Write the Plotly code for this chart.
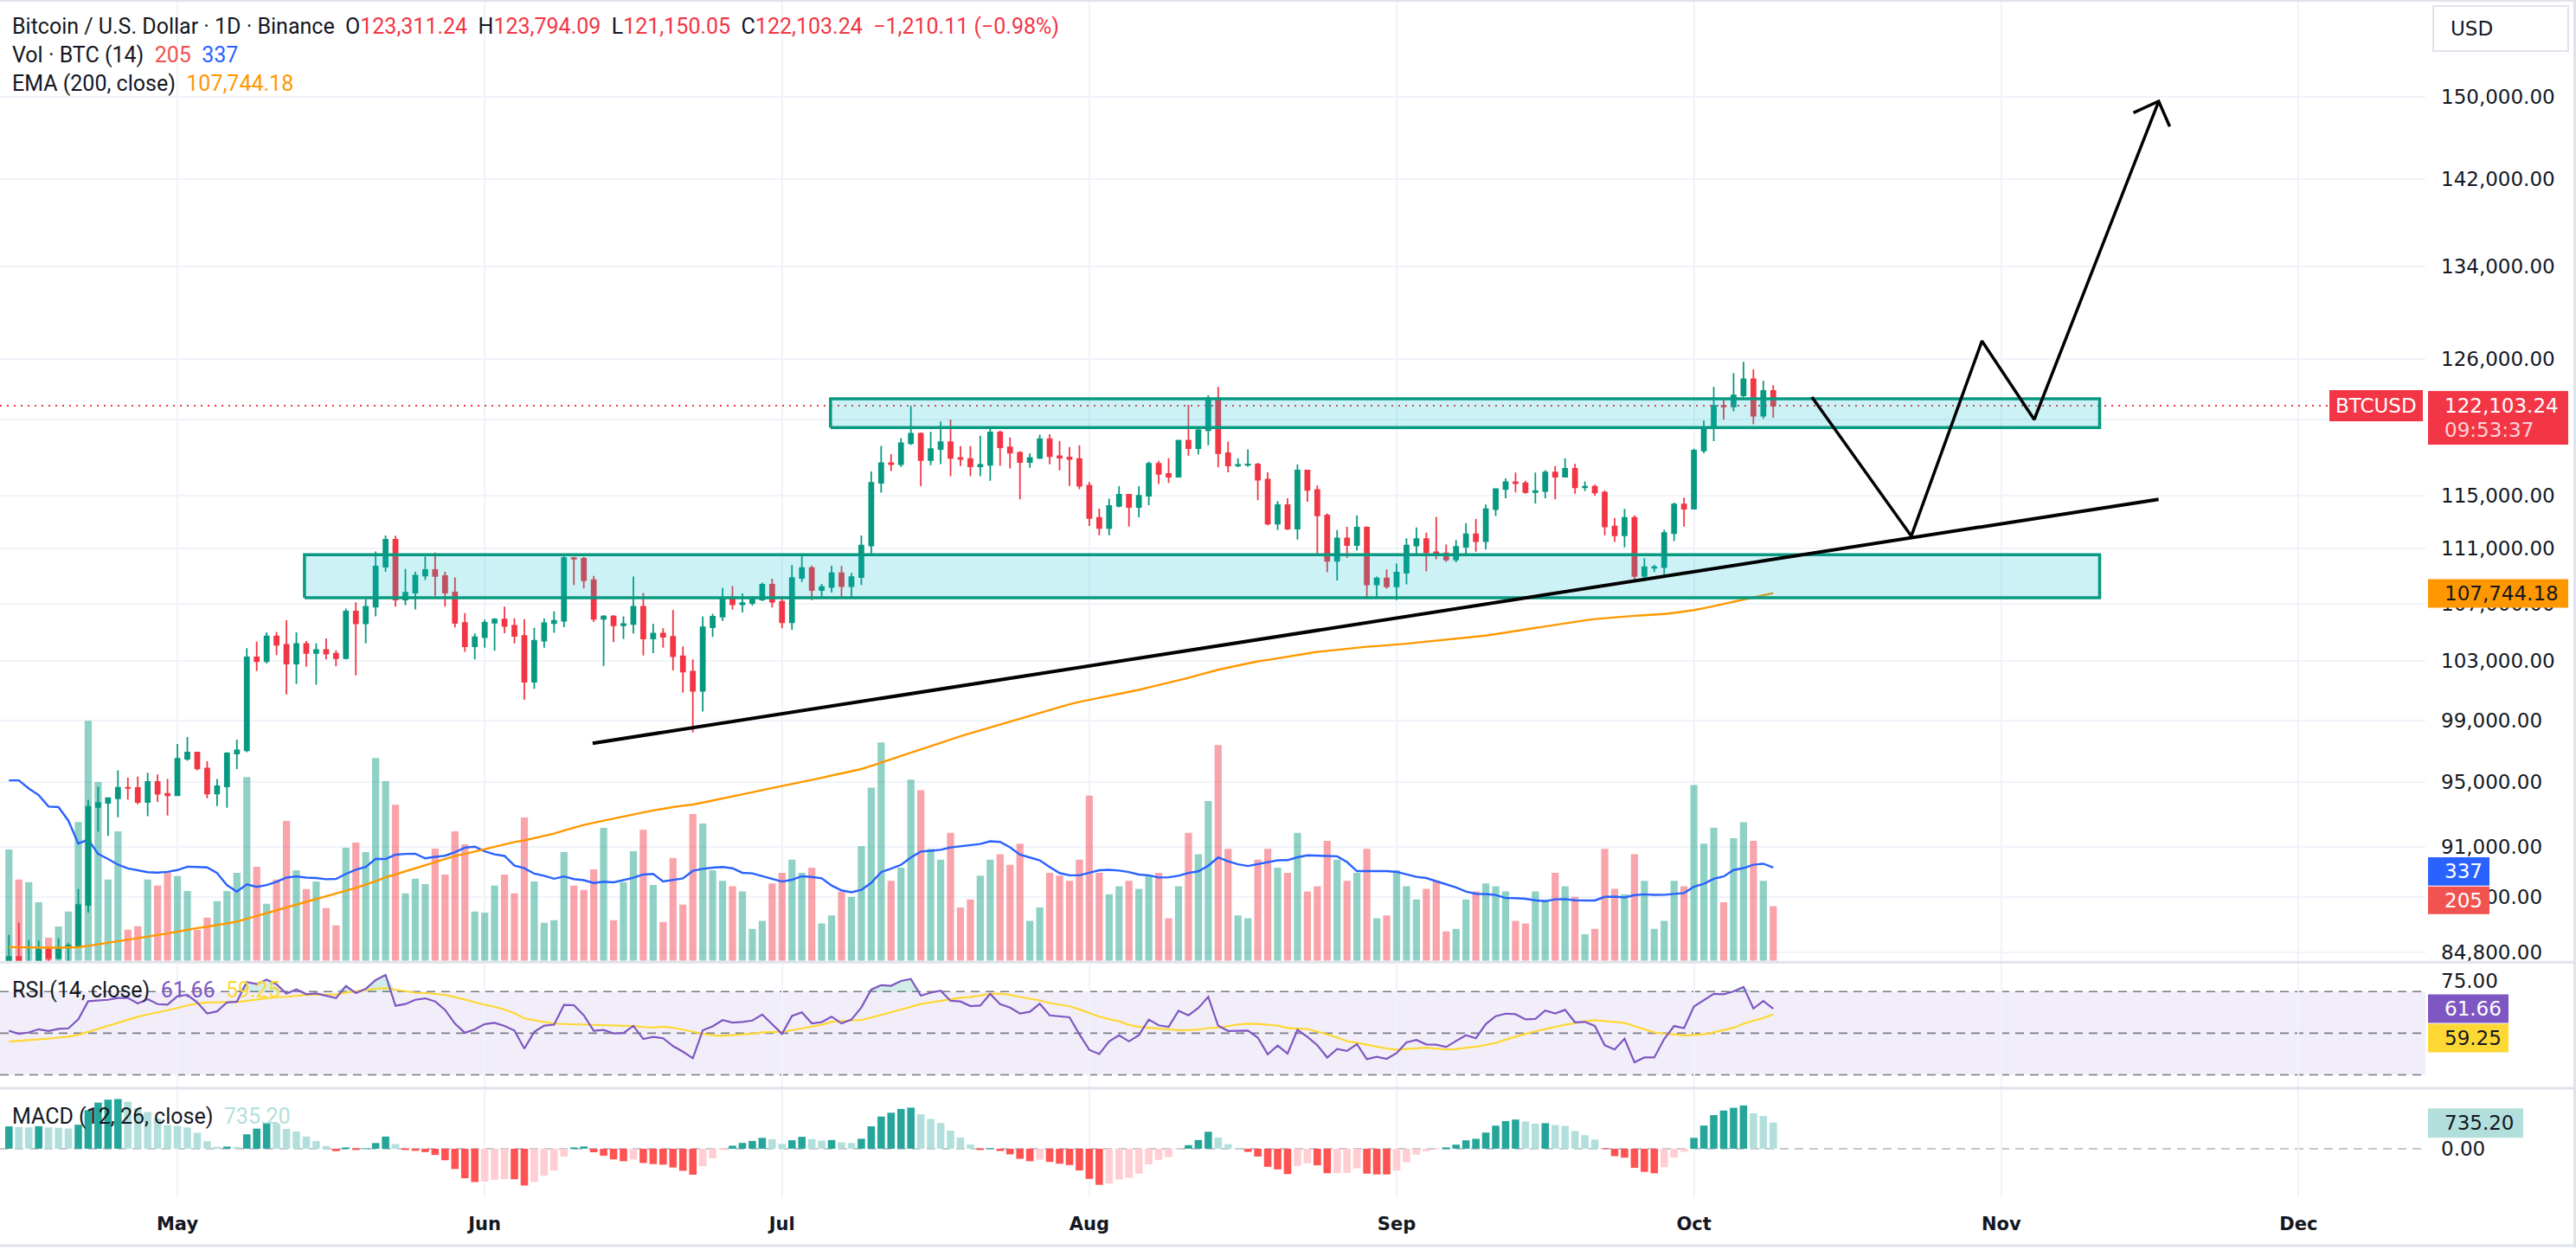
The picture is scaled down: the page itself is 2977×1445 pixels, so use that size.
import numpy as np
import pandas as pd
import plotly.graph_objects as go

# ---------------- data ----------------
dates = pd.date_range("2025-04-14", "2025-10-09", freq="D")

opens = [
    83760, 84540, 83630, 84030, 84950, 84470, 85060, 85180, 87520, 93440, 93690, 93980, 94640, 94630, 93750, 95010, 94260,
    94170, 96490, 96890, 95860, 94280, 94730, 96830, 97030, 103240, 102970, 104700, 104110, 102810, 104170, 103540, 103740,
    103490, 103190, 106450, 105610, 106790, 109680, 111670, 107290, 107790, 109030, 109440, 108990, 107800, 105640, 104000,
    104640, 105650, 105880, 105430, 104730, 101580, 104390, 105620, 105790, 110300, 110260, 108690, 105930, 106090, 105470,
    105560, 106790, 104550, 104890, 104660, 103310, 102260, 100960, 105330, 106080, 107340, 106950, 107050, 107300, 108360,
    107140, 105680, 108850, 109580, 107980, 108200, 109200, 108260, 108920, 111230, 115990, 117520, 117440, 119090, 119840,
    117760, 118630, 119180, 117920, 117840, 117270, 117380, 119950, 118760, 118340, 117610, 117920, 119420, 118060, 117950,
    117840,
    115760, 113300, 112550, 114210, 115060, 114130, 114990, 117470, 116670, 116460, 119290, 118690, 120130, 122700, 118300,
    117340, 117380, 117410, 116230, 112870, 114270, 112500, 116940, 115440, 113490, 110110, 111760, 111260, 112570, 108380,
    108820,
    108250, 109240, 111240, 111710, 110730, 110660, 110190, 111140, 112070, 111550, 113960, 115500, 116030, 115950, 115270,
    115350, 116790, 116450, 117070, 115630, 115690, 115230, 112650, 112000, 113310, 109000, 109600, 109640, 112160, 114320,
    113990, 118500, 120300, 122100, 122040, 122940, 124290, 121300, 123311.24,
]
closes = [
    84540, 83630, 84030, 84950, 84470, 85060, 85180, 87520, 93440, 93690, 93980, 94640, 94630, 93750, 95010, 94260, 94170,
    96490, 96890, 95860, 94280, 94730, 96830, 97030, 103240, 102970, 104700, 104110, 102810, 104170, 103540, 103740, 103490,
    103190, 106450, 105610, 106790, 109680, 111670, 107290, 107790, 109030, 109440, 108990, 107800, 105640, 104000, 104640,
    105650, 105880, 105430, 104730, 101580, 104390, 105620, 105790, 110300, 110260, 108690, 105930, 106090, 105470, 105560,
    106790, 104550, 104890, 104660, 103310, 102260, 100960, 105330, 106080, 107340, 106950, 107050, 107300, 108360, 107140,
    105680, 108850, 109580, 107980, 108200, 109200, 108260, 108920, 111230, 115990, 117520, 117440, 119090, 119840, 117760,
    118630, 119180, 117920, 117840, 117270, 117380, 119950, 118760, 118340, 117610, 117920, 119420, 118060, 117950, 117840,
    115760,
    113300, 112550, 114210, 115060, 114130, 114990, 117470, 116670, 116460, 119290, 118690, 120130, 122700, 118300, 117340,
    117380, 117410, 116230, 112870, 114270, 112500, 116940, 115440, 113490, 110110, 111760, 111260, 112570, 108380, 108820,
    108250,
    109240, 111240, 111710, 110730, 110660, 110190, 111140, 112070, 111550, 113960, 115500, 116030, 115950, 115270, 115350,
    116790, 116450, 117070, 115630, 115690, 115230, 112650, 112000, 113310, 109000, 109640, 109640, 112160, 114320, 113990,
    118500, 120300, 122100, 122040, 122940, 124290, 121300, 123310, 122103.24,
]
highs = [
    85800, 86500, 85500, 85470, 85130, 85600, 85320, 88460, 93880, 94700, 94000, 95750, 95280, 95350, 95600, 95480, 95200,
    97440, 97900, 96940, 96330, 95200, 96920, 97730, 103870, 104330, 104980, 105000, 105820, 104980, 104370, 104200, 104550,
    103720, 106660, 107100, 107320, 110800, 111980, 111960, 109500, 109300, 110420, 110720, 109300, 108900, 106330, 104900,
    105880, 105980, 106800, 105970, 105900, 105300, 105950, 106450, 110620, 110400, 110400, 109000, 106200, 106200, 106100,
    108950, 107770, 105560, 105260, 106550, 104000, 103100, 106100, 106290, 108140, 108270, 107730, 107550, 108520, 108800,
    107530, 109790, 110530, 109760, 108430, 109740, 109730, 109220, 111990, 116860, 118870, 118230, 119490, 122100, 119950,
    120000, 120830, 120980, 118860, 118850, 119680, 120250, 120090, 119540, 118450, 118300, 119770, 119800, 119270, 118780,
    118920,
    116050, 114000, 114760, 115720, 115130, 115720, 117650, 117700, 117900, 119310, 122180, 120320, 122950, 123650, 119220,
    117900, 118600, 117540, 116800, 114580, 114800, 117430, 117000, 115770, 113640, 112380, 112630, 113500, 112660, 108950,
    109480,
    109910, 111770, 112580, 112200, 113380, 111300, 111650, 112900, 113230, 114310, 115520, 116330, 116780, 116150, 116780,
    116970, 117290, 117900, 117460, 116100, 115850, 115400, 113300, 113980, 113500, 110300, 109800, 112400, 114470, 114850,
    118650, 120900, 123650, 122700, 124800, 125730, 125100, 124150, 123794.09,
]
lows = [
    83600, 83600, 83100, 83740, 84300, 84400, 83950, 85140, 87080, 91900, 91650, 92800, 93880, 93600, 92860, 93750, 92900,
    94120, 96360, 95750, 93980, 93500, 93380, 95830, 96920, 102300, 102820, 103400, 100720, 101440, 102600, 101380, 103100,
    102620, 103100, 102000, 104200, 106100, 109300, 106800, 106880, 106600, 108700, 107560, 106800, 105320, 103620, 103100,
    103900, 103700, 104920, 104200, 100370, 101100, 103900, 104950, 105340, 108350, 108100, 105700, 102660, 104300, 104500,
    104900, 103370, 103530, 103900, 102350, 100840, 98200, 99570, 104660, 105780, 106580, 106370, 106860, 107200, 106730,
    105270, 105160, 108570, 107260, 107480, 107800, 107500, 107430, 108350, 110580, 115220, 116900, 117230, 118950, 115730,
    117350, 117450, 116500, 117290, 116500, 116500, 116150, 117300, 117100, 114720, 117160, 117840, 117430, 116960, 115740,
    115500,
    112700, 112000, 112000, 114100, 112650, 113350, 114270, 115890, 115980, 116460, 118100, 118200, 118920, 117180, 116800,
    117200, 117240, 114640, 112740, 112380, 112380, 111680, 114530, 110650, 109270, 108670, 110330, 110860, 107450, 107350,
    108080,
    107260, 108390, 110500, 109330, 110220, 110030, 110000, 110620, 110780, 110940, 113440, 114800, 115250, 115140, 114400,
    114800, 114720, 116400, 115150, 115350, 115000, 112000, 111500, 111100, 108630, 108620, 109280, 109100, 111560, 112650,
    113950, 118300, 119250, 120980, 121650, 122800, 120600, 121060, 121150.05,
]
volumes = [
    418, 305, 295, 220, 87, 129, 185, 521, 901, 671, 305, 486, 117, 130, 305, 282, 332,
    318, 262, 116, 162, 224, 262, 330, 690, 353, 214, 305, 525, 340, 269, 298, 198, 133, 424, 444, 408, 761, 674, 586, 253,
    308, 288, 421, 324, 486, 437, 185,
    181, 282, 324, 253, 538, 298, 143, 152, 408, 282, 266, 343, 499, 152, 295, 411, 492, 285, 146, 386, 211, 551, 515, 340,
    300, 280, 260, 120, 150, 290,
    330, 380, 330, 350, 140, 170, 260, 240, 430, 650, 820, 300, 350, 680, 640, 420, 380, 480, 200, 230, 320, 380, 400, 360,
    440, 150, 200, 330, 320, 300, 380,
    620, 330, 250, 280, 300, 270, 320, 330, 160, 280, 480, 400, 600, 810, 420, 170, 160, 380, 420, 350, 330, 480, 260, 280,
    450, 380, 300, 330, 420, 160, 170,
    340, 280, 230, 270, 300, 110, 120, 230, 260, 290, 280, 260, 150, 140, 260, 230, 330, 280, 240, 100, 120, 420, 270, 250,
    400, 300, 120, 150, 300, 280,
    660, 440, 500, 220, 460, 520, 450, 300, 205,
]
# volume MA(14) read for the first 13 sessions (earlier volumes are off-chart)
vol_ma_head = [677, 677, 647, 622, 579, 577, 526, 440, 455, 401, 382, 361, 347]

# indicator state carried in from before the first visible session
prev_close = 83760
ema200_seed = 85100
rsi_gain_seed, rsi_loss_seed = 1300.0, 1300.0
rsi_ma_seed = 45.5
ema12_seed, ema26_seed, signal_seed = 82400.0, 83500.0, -1650.0

price_ticks = [150000, 142000, 134000, 126000, 121000, 115000, 111000, 107000, 103000, 99000, 95000, 91000, 88000, 84800]
hidden_ticks = [121000]   # covered by the last-price label on the scale

# drawings (time, price anchors)
upper_box = dict(t0="2025-07-05 21:20", t1="2025-11-10 22:20", p0=120346, p1=122678)
lower_box = dict(t0="2025-05-13 19:40", t1="2025-11-10 22:20", p0=107420, p1=110560)
trend_t = ["2025-06-11 21:22", "2025-11-16 21:00"]
trend_p = [97490, 114720]
zig_t = ["2025-10-12 21:36", "2025-10-22 22:19", "2025-10-30 01:26", "2025-11-04 07:55", "2025-11-16 21:21"]
zig_p = [122817, 111940, 127490, 120985, 149600]
head_t = ["2025-11-14 08:10", "2025-11-16 21:21", "2025-11-18 00:00"]
head_p = [148450, 149600, 147095]

last_price = 122103.24
x_start, x_end = "2025-04-13 02:24", "2025-12-13 19:12"
price_line_end = "2025-12-04 04:48"

# ---------------- indicators ----------------
c = np.array(closes, float)
o = np.array(opens, float)
n = len(c)

ema200 = []
e = ema200_seed
for x in c:
    e = e + (x - e) * 2 / 201
    ema200.append(e)

rsi = []
g, l, pc = rsi_gain_seed, rsi_loss_seed, prev_close
for x in c:
    ch = x - pc
    pc = x
    g = (g * 13 + max(ch, 0)) / 14
    l = (l * 13 + max(-ch, 0)) / 14
    rsi.append(100 - 100 / (1 + g / l))
ext = [rsi_ma_seed] * 13 + rsi
rsi_ma = [float(np.mean(ext[i:i + 14])) for i in range(n)]

hist = []
e12, e26, sig = ema12_seed, ema26_seed, signal_seed
for x in c:
    e12 += (x - e12) * 2 / 13
    e26 += (x - e26) * 2 / 27
    m = e12 - e26
    sig += (m - sig) * 2 / 10
    hist.append(m - sig)
hist_colors = []
for i, h in enumerate(hist):
    prev = hist[i - 1] if i > 0 else h
    if h >= 0:
        hist_colors.append("#26A69A" if h >= prev else "#B2DFDB")
    else:
        hist_colors.append("#FF5252" if h < prev else "#FFCDD2")

vol = np.array(volumes, float)
vol_ma = list(vol_ma_head) + [float(vol[i - 13:i + 1].mean()) for i in range(13, n)]

UP, DN = "#089981", "#F23645"
vol_colors = ["rgba(8,153,129,0.45)" if cl >= op else "rgba(242,54,69,0.45)" for op, cl in zip(o, c)]

# ---------------- geometry ----------------
W, H = 2977, 1445
PLOT_R = 2803
def PX(x): return x / W
def PY(y): return 1 - y / H

PRICE_BOT = 1113
RSI_TOP, RSI_BOT = 1115, 1260
MACD_TOP, MACD_BOT = 1260, 1387
A, B = 20812.5, 1736.8  # screen mapping of the log price scale
log_top = (A / B) / np.log(10)
log_bot = ((A - PRICE_BOT) / B) / np.log(10)
VOL_TOP = PRICE_BOT * 3.24

DAY = 86400000
fig = go.Figure()

# volume (base axis, drawn beneath price)
fig.add_trace(go.Bar(x=dates, y=volumes, marker=dict(color=vol_colors, line=dict(width=0)),
                     width=0.72 * DAY, xaxis="x", yaxis="y", hoverinfo="skip"))
fig.add_trace(go.Scatter(x=dates, y=vol_ma, mode="lines", line=dict(color="#2962FF", width=2.4),
                         xaxis="x", yaxis="y", hoverinfo="skip"))

# price
fig.add_trace(go.Scatter(x=dates, y=ema200, mode="lines", line=dict(color="#FF9800", width=2.4),
                         xaxis="x", yaxis="y2", hoverinfo="skip"))
fig.add_trace(go.Candlestick(x=dates, open=opens, high=highs, low=lows, close=closes,
                             increasing=dict(line=dict(color=UP, width=1.8), fillcolor=UP),
                             decreasing=dict(line=dict(color=DN, width=1.8), fillcolor=DN),
                             whiskerwidth=0, xaxis="x", yaxis="y2", hoverinfo="skip"))
fig.add_trace(go.Scatter(x=[x_start, price_line_end], y=[last_price, last_price], mode="lines",
                         line=dict(color=DN, width=2, dash="2px,6px"), xaxis="x", yaxis="y2", hoverinfo="skip"))

# drawings
for bx in (upper_box, lower_box):
    fig.add_trace(go.Scatter(x=[bx["t0"], bx["t1"], bx["t1"], bx["t0"], bx["t0"]],
                             y=[bx["p0"], bx["p0"], bx["p1"], bx["p1"], bx["p0"]],
                             mode="lines", fill="toself", fillcolor="rgba(0,188,212,0.2)",
                             line=dict(color=UP, width=3.5), xaxis="x", yaxis="y2", hoverinfo="skip"))
fig.add_trace(go.Scatter(x=trend_t, y=trend_p, mode="lines", line=dict(color="#000000", width=4),
                         xaxis="x", yaxis="y2", hoverinfo="skip"))
fig.add_trace(go.Scatter(x=zig_t, y=zig_p, mode="lines", line=dict(color="#000000", width=3.5),
                         xaxis="x", yaxis="y2", hoverinfo="skip"))
fig.add_trace(go.Scatter(x=head_t, y=head_p, mode="lines", line=dict(color="#000000", width=3.5),
                         xaxis="x", yaxis="y2", hoverinfo="skip"))

# RSI
fig.add_trace(go.Scatter(x=dates, y=[70] * n, mode="lines", line=dict(width=0, color="rgba(0,0,0,0)"),
                         xaxis="x", yaxis="y3", hoverinfo="skip"))
fig.add_trace(go.Scatter(x=dates, y=np.maximum(rsi, 70), mode="lines", line=dict(width=0, color="rgba(0,0,0,0)"),
                         fill="tonexty", fillcolor="rgba(8,153,129,0.18)", xaxis="x", yaxis="y3", hoverinfo="skip"))
fig.add_trace(go.Scatter(x=dates, y=rsi_ma, mode="lines", line=dict(color="#FDD835", width=2.2),
                         xaxis="x", yaxis="y3", hoverinfo="skip"))
fig.add_trace(go.Scatter(x=dates, y=rsi, mode="lines", line=dict(color="#7E57C2", width=2.2),
                         xaxis="x", yaxis="y3", hoverinfo="skip"))

# MACD histogram
fig.add_trace(go.Bar(x=dates, y=hist, marker=dict(color=hist_colors, line=dict(width=0)),
                     width=0.75 * DAY, xaxis="x", yaxis="y4", hoverinfo="skip"))

GRID = "#F0F3FA"
TXT = "#131722"
AXF = dict(family="DejaVu Sans", size=23, color=TXT)

fig.update_layout(
    width=W, height=H, margin=dict(l=0, r=0, t=0, b=0),
    paper_bgcolor="white", plot_bgcolor="white", showlegend=False,
    barmode="overlay", boxgap=0.38, hovermode=False,
    font=AXF,
    xaxis=dict(domain=[0, PX(PLOT_R)], type="date", range=[x_start, x_end], anchor="y4",
               tick0="2025-05-01", dtick="M1", tickformat="%b", showgrid=True, gridcolor=GRID, gridwidth=1.5,
               zeroline=False, showline=False, ticks="", ticklabelstandoff=16,
               tickfont=dict(family="DejaVu Sans", size=21, color=TXT, weight="bold"),
               rangeslider=dict(visible=False)),
    yaxis=dict(domain=[PY(PRICE_BOT), 1], range=[0, VOL_TOP], visible=False, fixedrange=True),
    yaxis2=dict(domain=[PY(PRICE_BOT), 1], overlaying="y", anchor="x", side="right", type="log",
                range=[log_bot, log_top], tickvals=price_ticks,
                ticktext=["" if v in hidden_ticks else f"{v:,.2f}" for v in price_ticks],
                showgrid=True, gridcolor=GRID, gridwidth=1.5,
                zeroline=False, showline=False, ticks="", ticklabelstandoff=17, tickfont=AXF),
    yaxis3=dict(domain=[PY(RSI_BOT), PY(RSI_TOP)], anchor="x", side="right", range=[23.78, 83.98],
                tickvals=[75], ticktext=["75.00"], showgrid=False, zeroline=False, showline=False,
                ticks="", ticklabelstandoff=17, tickfont=AXF),
    yaxis4=dict(domain=[PY(MACD_BOT), PY(MACD_TOP)], anchor="x", side="right", range=[-1393, 1750],
                tickvals=[0], ticktext=["0.00"], showgrid=False, zeroline=False, showline=False,
                ticks="", ticklabelstandoff=17, tickfont=AXF),
)

shapes = []
# RSI band and levels
shapes.append(dict(type="rect", xref="paper", yref="y3", x0=0, x1=PX(PLOT_R), y0=30, y1=70,
                   fillcolor="rgba(126,87,194,0.1)", line=dict(width=0), layer="below"))
for lv in (70, 50, 30):
    shapes.append(dict(type="line", xref="paper", yref="y3", x0=0, x1=PX(PLOT_R), y0=lv, y1=lv,
                       line=dict(color="#787B86", width=1.6, dash="10px,7px"), layer="below"))
shapes.append(dict(type="line", xref="paper", yref="y4", x0=0, x1=PX(PLOT_R), y0=0, y1=0,
                   line=dict(color="#B2B5BE", width=1.4, dash="10px,7px"), layer="below"))
# pane separators and borders
for yy in (1114.5, 1260.5):
    shapes.append(dict(type="line", xref="paper", yref="paper", x0=0, x1=1, y0=PY(yy), y1=PY(yy),
                       line=dict(color="#E0E3EB", width=3)))
shapes.append(dict(type="line", xref="paper", yref="paper", x0=0, x1=1, y0=PY(1), y1=PY(1),
                   line=dict(color="#E0E3EB", width=2)))
shapes.append(dict(type="line", xref="paper", yref="paper", x0=0, x1=1, y0=PY(1443), y1=PY(1443),
                   line=dict(color="#E0E3EB", width=3)))
shapes.append(dict(type="line", xref="paper", yref="paper", x0=PX(2975.5), x1=PX(2975.5), y0=0, y1=1,
                   line=dict(color="#E0E3EB", width=3)))

# label boxes on the price scale
def box(x0, y0, x1, y1, color, border=None):
    shapes.append(dict(type="rect", xref="paper", yref="paper", x0=PX(x0), x1=PX(x1), y0=PY(y1), y1=PY(y0),
                       fillcolor=color, line=dict(width=2 if border else 0, color=border or color),
                       layer="above"))

box(2812, 7, 2968, 59, "white", "#E0E3EB")
box(2692, 452, 2800, 488, DN)
box(2806, 453, 2968, 515, DN)
box(2806, 671, 2968, 704, "#FF9800")
box(2806, 993, 2877, 1026, "#2962FF")
box(2806, 1027, 2877, 1059, "#F05350")
box(2806, 1152, 2899, 1185, "#7E57C2")
box(2806, 1186, 2899, 1219, "#FDD835")
box(2806, 1284, 2916, 1318, "#B2DFDB")
fig.update_layout(shapes=shapes)

ann = []
def label(x, y, text, color=TXT, size=23, family="DejaVu Sans", xanchor="left"):
    ann.append(dict(xref="paper", yref="paper", x=PX(x), y=PY(y), text=text, showarrow=False,
                    xanchor=xanchor, yanchor="middle", align="left",
                    font=dict(family=family, size=size, color=color)))

NB = "\u00a0"
HF = "Roboto"
HS = 25
def red(s): return f"<span style='color:{DN}'>{s}</span>"
o_l, h_l, l_l, c_l = opens[-1], highs[-1], lows[-1], closes[-1]
line1 = ("Bitcoin / U.S. Dollar · 1D · Binance" + NB * 2 + "O" + red(f"{o_l:,.2f}") + NB * 2 + "H" + red(f"{h_l:,.2f}")
         + NB * 2 + "L" + red(f"{l_l:,.2f}") + NB * 2 + "C" + red(f"{c_l:,.2f}") + NB * 2 + red("−1,210.11 (−0.98%)"))
label(12, 31, line1, size=HS, family=HF)
label(12, 64, "Vol · BTC (14)" + NB * 2 + f"<span style='color:#F05350'>{volumes[-1]}</span>" + NB * 2
      + "<span style='color:#2962FF'>337</span>", size=HS, family=HF)
label(12, 97, "EMA (200, close)" + NB * 2 + "<span style='color:#FF9800'>107,744.18</span>", size=HS, family=HF)
label(12, 1147, "RSI (14, close)" + NB * 2 + "<span style='color:#7E57C2'>61.66</span>" + NB * 2
      + "<span style='color:#FDD835'>59.25</span>", size=HS, family=HF)
label(12, 1293, "MACD (12, 26, close)" + NB * 2 + "<span style='color:#B2DFDB'>735.20</span>", size=HS, family=HF)

label(2830, 33, "USD")
label(2746, 470, "BTCUSD", color="white", xanchor="center")
label(2823, 470, f"{last_price:,.2f}", color="white")
label(2823, 498, "09:53:37", color="rgba(255,255,255,0.8)")
label(2823, 687.5, "107,744.18")
label(2823, 1009.5, "337", color="white")
label(2823, 1043, f"{volumes[-1]}", color="white")
label(2823, 1168.5, "61.66", color="white")
label(2823, 1202.5, "59.25")
label(2823, 1301, "735.20")
fig.update_layout(annotations=ann)

fig.write_html("out.html")
